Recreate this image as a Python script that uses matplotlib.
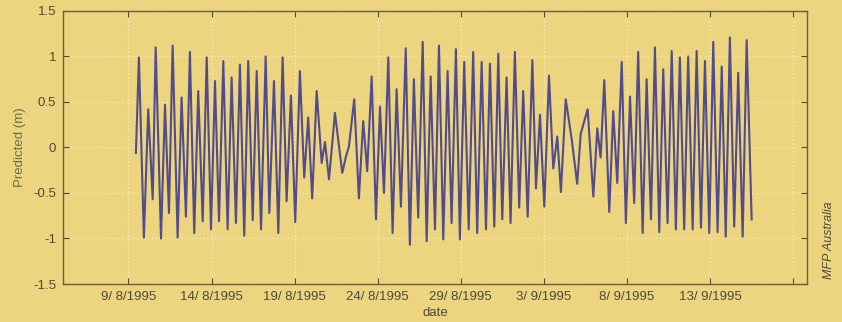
import numpy as np
import matplotlib
matplotlib.use("Agg")
import matplotlib.pyplot as plt
import matplotlib.dates as mdates
from datetime import datetime, timedelta

# turning points of the predicted tide
# days after 9/8/1995 00:00
days = [0.45, 0.63, 0.93, 1.19, 1.46, 1.64, 1.96, 2.20, 2.44, 2.66,
        2.96, 3.20, 3.46, 3.70, 3.96, 4.20, 4.47, 4.71, 4.97, 5.21,
        5.45, 5.71, 5.97, 6.21, 6.47, 6.71, 6.97, 7.21, 7.48, 7.72,
        7.98, 8.26, 8.48, 8.76, 9.02, 9.28, 9.52, 9.78, 10.04, 10.32,
        10.58, 10.82, 11.06, 11.33, 11.63, 11.83, 12.07, 12.43, 12.87, 13.09,
        13.27, 13.59, 13.87, 14.13, 14.37, 14.64, 14.90, 15.14, 15.38, 15.64,
        15.90, 16.14, 16.40, 16.69, 16.94, 17.18, 17.44, 17.71, 17.95, 18.19,
        18.45, 18.69, 18.95, 19.21, 19.45, 19.71, 19.95, 20.21, 20.48, 20.75,
        20.99, 21.26, 21.52, 21.76, 22.02, 22.26, 22.50, 22.76, 23.00, 23.26,
        23.52, 23.76, 24.03, 24.31, 24.53, 24.77, 25.03, 25.31, 25.57, 25.81,
        26.03, 26.32, 26.68, 27.01, 27.22, 27.64, 27.98, 28.22, 28.42, 28.64,
        28.94, 29.18, 29.42, 29.69, 29.94, 30.19, 30.44, 30.68, 30.95, 31.19,
        31.45, 31.69, 31.95, 32.19, 32.45, 32.70, 32.95, 33.19, 33.45, 33.69,
        33.96, 34.20, 34.46, 34.70, 34.96, 35.20, 35.46, 35.71, 35.95, 36.20,
        36.46, 36.70, 36.97, 37.21, 37.51]

height = [-0.06, 0.99, -0.99, 0.42, -0.57, 1.10, -1.00, 0.47, -0.72, 1.12,
          -0.99, 0.55, -0.76, 1.05, -0.94, 0.62, -0.81, 0.99, -0.90, 0.73,
          -0.81, 0.95, -0.90, 0.77, -0.83, 0.91, -0.97, 0.95, -0.80, 0.84,
          -0.90, 1.00, -0.72, 0.73, -0.94, 0.99, -0.59, 0.57, -0.82, 0.84,
          -0.33, 0.33, -0.56, 0.62, -0.17, 0.06, -0.35, 0.38, -0.28, -0.10,
          0.01, 0.53, -0.56, 0.29, -0.26, 0.78, -0.79, 0.45, -0.50, 0.99,
          -0.94, 0.64, -0.65, 1.09, -1.07, 0.75, -0.77, 1.16, -1.03, 0.78,
          -0.90, 1.12, -1.01, 0.84, -0.83, 1.08, -1.01, 0.94, -0.90, 1.05,
          -0.94, 0.94, -0.90, 0.92, -0.87, 1.03, -0.79, 0.77, -0.83, 1.05,
          -0.66, 0.62, -0.76, 0.96, -0.45, 0.36, -0.65, 0.79, -0.23, 0.12,
          -0.49, 0.53, 0.09, -0.40, 0.15, 0.42, -0.54, 0.21, -0.11, 0.74,
          -0.71, 0.40, -0.39, 0.94, -0.83, 0.56, -0.61, 1.05, -0.94, 0.75,
          -0.79, 1.10, -0.93, 0.86, -0.83, 1.06, -0.90, 0.99, -0.90, 1.00,
          -0.90, 1.06, -0.88, 0.95, -0.94, 1.16, -0.93, 0.89, -0.98, 1.21,
          -0.87, 0.82, -0.98, 1.18, -0.79]

tick_labels = ['9/ 8/1995', '14/ 8/1995', '19/ 8/1995', '24/ 8/1995',
               '29/ 8/1995', '3/ 9/1995', '8/ 9/1995', '13/ 9/1995', '']
y_ticks = [-1.5, -1, -0.5, 0, 0.5, 1, 1.5]
y_labels = ['-1.5', '-1', '-0.5', '0', '0.5', '1', '1.5']

bg = '#edd47e'
ink = '#4e4a3c'

plt.rcParams['font.family'] = ['Liberation Sans', 'DejaVu Sans']

start = datetime(1995, 8, 9)
t = [start + timedelta(days=d) for d in days]
ticks = [start + timedelta(days=5 * i) for i in range(len(tick_labels))]

fig = plt.figure(figsize=(8.42, 3.22), dpi=100, facecolor=bg)
ax = fig.add_axes([0.0748, 0.118, 0.8836, 0.848], facecolor=bg)

ax.plot(t, height, color='#524d8a', lw=1.5, solid_joinstyle='round')

ax.set_xlim(start - timedelta(days=3.94), start + timedelta(days=40.84))
ax.set_ylim(-1.5, 1.5)
ax.set_xticks(ticks)
ax.set_xticklabels(tick_labels)
ax.set_yticks(y_ticks)
ax.set_yticklabels(y_labels)

ax.grid(True, ls=':', color='#f6ebb8', lw=1.0)
ax.tick_params(direction='in', top=True, right=True, length=4,
               colors=ink, labelsize=9.5, pad=5)
for s in ax.spines.values():
    s.set_color('#6a5e40')
    s.set_linewidth(1.0)

ax.set_ylabel('Predicted (m)', color='#66704c', fontsize=9.5, labelpad=5)
ax.set_xlabel('date', color=ink, fontsize=9.5, labelpad=3)

fig.text(0.985, 0.255, 'MFP Australia', rotation=90, ha='center', va='center',
         style='italic', color=ink, fontsize=9)

fig.savefig('out.png', dpi=100, facecolor=bg)
